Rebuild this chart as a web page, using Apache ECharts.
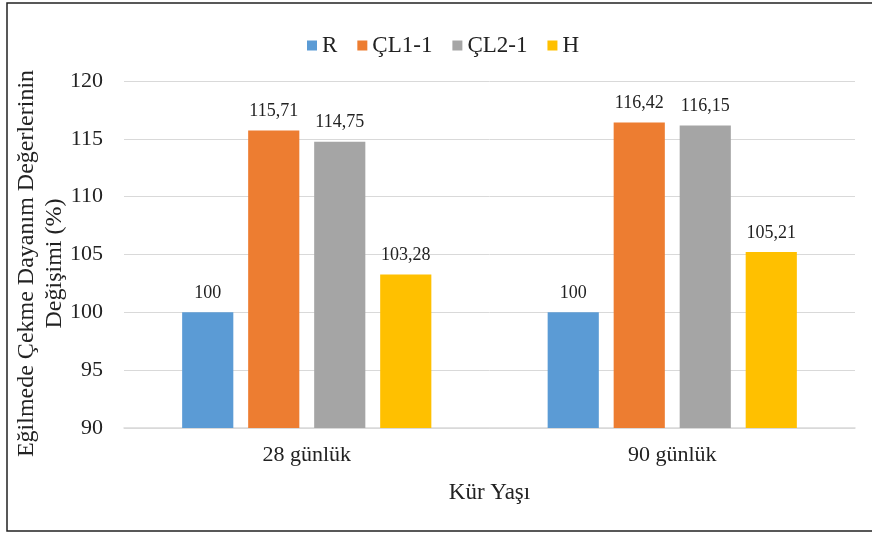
<!DOCTYPE html>
<html>
<head>
<meta charset="utf-8">
<script src="https://cdn.jsdelivr.net/npm/echarts@6/dist/echarts.min.js"></script>
<style>html,body{margin:0;padding:0;background:#fff}#c{width:872px;height:533px}</style>
</head>
<body>
<div id="c"></div>
<script>
var categories = ['28 günlük', '90 günlük'];
var seriesNames = ['R', 'ÇL1-1', 'ÇL2-1', 'H'];
var valuesR = [100, 100];
var valuesCL11 = [115.71, 116.42];
var valuesCL21 = [114.75, 116.15];
var valuesH = [103.28, 105.21];
var colors = ['#5B9BD5', '#ED7D31', '#A5A5A5', '#FFC000'];
var font = '"Liberation Serif", "Times New Roman", serif';

var allValues = [valuesR, valuesCL11, valuesCL21, valuesH];
var chart = echarts.init(document.getElementById('c'));
chart.setOption({
  animation: false,
  textStyle: { fontFamily: font },
  graphic: [{
    type: 'rect',
    shape: { x: 7, y: 3, width: 880, height: 528 },
    style: { fill: 'none', stroke: '#222', lineWidth: 1.5 },
    silent: true
  }],
  legend: {
    top: 29, left: 302,
    itemWidth: 10, itemHeight: 10, itemGap: 20,
    icon: 'rect',
    textStyle: { fontFamily: font, fontSize: 23, color: '#222' },
    data: seriesNames
  },
  grid: { left: 124, right: 17, top: 81, bottom: 105, outerBoundsMode: 'none', containLabel: false },
  xAxis: {
    type: 'category',
    data: categories,
    name: 'Kür Yaşı',
    nameLocation: 'middle',
    nameGap: 53,
    nameTextStyle: { fontFamily: font, fontSize: 23, color: '#222' },
    axisLine: { lineStyle: { color: '#d9d9d9', width: 1.5 } },
    axisTick: { show: false },
    axisLabel: { fontFamily: font, fontSize: 22, color: '#222', margin: 16 }
  },
  yAxis: {
    type: 'value',
    min: 90, max: 120, interval: 5,
    name: 'Eğilmede Çekme Dayanım Değerlerinin\nDeğişimi (%)',
    nameLocation: 'middle',
    nameGap: 55,
    nameMoveOverlap: false,
    nameTextStyle: { fontFamily: font, fontSize: 24, color: '#222', lineHeight: 28, padding: [0, 18, 0, 0] },
    axisLine: { show: false },
    axisTick: { show: false },
    axisLabel: { fontFamily: font, fontSize: 22, color: '#222', margin: 21 },
    splitLine: { lineStyle: { color: '#d9d9d9', width: 1 } }
  },
  series: seriesNames.map(function (n, i) {
    return {
      name: n,
      type: 'bar',
      data: allValues[i],
      barWidth: '14%',
      barGap: '29%',
      itemStyle: { color: colors[i] },
      label: {
        show: true, position: 'top', distance: 10,
        fontFamily: font, fontSize: 18, color: '#222',
        formatter: function (p) { return String(p.value).replace('.', ','); }
      }
    };
  })
});
</script>
</body>
</html>
